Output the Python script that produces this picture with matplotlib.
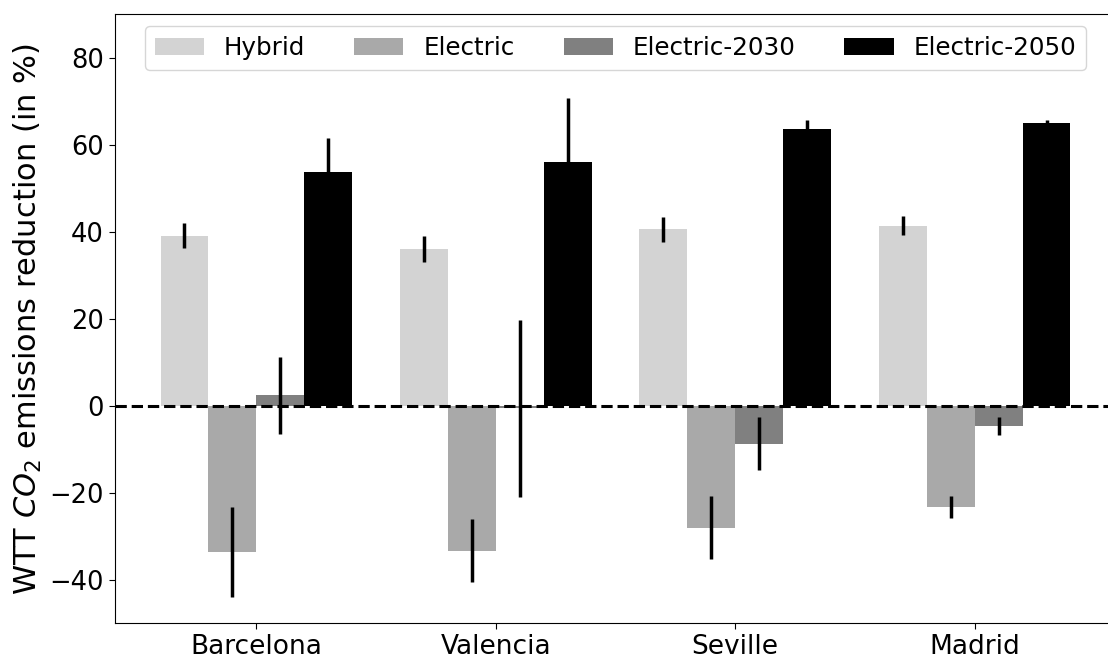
import numpy as np
import matplotlib
matplotlib.use('Agg')
import matplotlib.pyplot as plt

cities = ['Barcelona', 'Valencia', 'Seville', 'Madrid']
labels = ['Hybrid', 'Electric', 'Electric-2030', 'Electric-2050']
colors = ['lightgray', 'darkgray', 'gray', 'black']

hybrid = [39.1, 36.0, 40.5, 41.4]
hybrid_err = [2.8, 3.0, 2.85, 2.1]
electric = [-33.6, -33.3, -28.0, -23.3]
electric_err = [10.3, 7.15, 7.2, 2.55]
electric_2030 = [2.4, -0.6, -8.75, -4.7]
electric_2030_err = [8.8, 20.4, 6.05, 2.15]
electric_2050 = [53.7, 56.1, 63.65, 65.0]
electric_2050_err = [7.9, 14.7, 2.0, 0.6]

values = [hybrid, electric, electric_2030, electric_2050]
errors = [hybrid_err, electric_err, electric_2030_err, electric_2050_err]

fig = plt.figure(figsize=(11.08, 6.63), dpi=100)
ax = fig.add_axes([0.1038, 0.0599, 0.9034, 0.919])

x = np.arange(len(cities))
w = 0.2
ax.axhline(0, color='black', linestyle='--', linewidth=2.2, zorder=3)
for i in range(4):
    ax.bar(x + (i - 1.5) * w, values[i], w, yerr=errors[i], color=colors[i],
           label=labels[i], error_kw=dict(elinewidth=2.5, ecolor='black', capsize=0),
           zorder=2)

ax.set_xticks(x)
ax.set_xticklabels(cities, fontsize=19)
ax.tick_params(axis='y', labelsize=18.5)
ax.tick_params(length=4.5)
ax.set_ylim(-50, 90)
ax.set_xlim(-0.59, 3.59)
ax.set_ylabel('WTT $CO_2$ emissions reduction (in %)', fontsize=22)
ax.legend(loc='upper center', ncol=4, fontsize=17.7)

fig.savefig('out.png', dpi=100)
